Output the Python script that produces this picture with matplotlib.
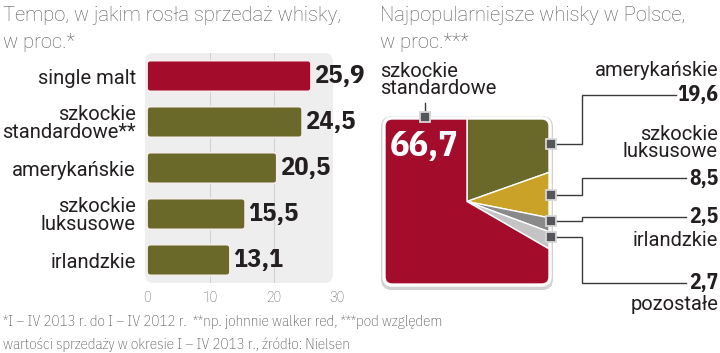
import matplotlib.pyplot as plt
from matplotlib.patches import FancyBboxPatch

# --- data -----------------------------------------------------------------
growth_labels = ['single malt', 'szkockie\nstandardowe**', 'amerykańskie',
                 'szkockie\nluksusowe', 'irlandzkie']
growth_values = [25.9, 24.5, 20.5, 15.5, 13.1]
growth_colors = ['#a30d2b', '#6b692a', '#6b692a', '#6b692a', '#6b692a']
growth_ticks = [0, 10, 20, 30]

share_labels = ['amerykańskie', 'szkockie\nluksusowe', 'irlandzkie', 'pozostałe',
                'szkockie\nstandardowe']
share_values = [19.6, 8.5, 2.5, 2.7, 66.7]
share_colors = ['#6b692a', '#c9a227', '#8a8a8a', '#c4c4c4', '#a30d2b']

title_left = ['Tempo, w jakim rosła sprzedaż whisky,', 'w proc.*']
title_right = ['Najpopularniejsze whisky w Polsce,', 'w proc.***']
footnote = ['*I – IV 2013 r. do I – IV 2012 r.  **np. johnnie walker red, ***pod względem',
            'wartości sprzedaży w okresie I – IV 2013 r., źródło: Nielsen']

LIGHT = dict(family=['Roboto', 'DejaVu Sans'], weight='light', color='#555555')
FOOT = dict(family=['IBM Plex Sans Condensed', 'DejaVu Sans'], weight='light', color='#555555')
LABEL = dict(family=['Roboto', 'DejaVu Sans'], color='#231f20')
NUM = dict(family=['IBM Plex Sans Condensed', 'DejaVu Sans'], weight='bold', color='#231f20')


def fmt(v):
    return f'{v:.1f}'.replace('.', ',')


W, H = 720, 353
fig = plt.figure(figsize=(7.2, 3.53), dpi=100)


def px_axes(x0, y0, x1, y1):
    return fig.add_axes([x0 / W, 1 - y1 / H, (x1 - x0) / W, (y1 - y0) / H])


# background layer in pixel coordinates (panel, pie shadow)
bg = px_axes(0, 0, W, H)
bg.set_xlim(0, W)
bg.set_ylim(H, 0)
bg.axis('off')
bg.add_patch(FancyBboxPatch((145, 53), 188, 230, boxstyle='round,pad=0,rounding_size=9',
                            fc='#eeeeee', ec='none'))
bg.add_patch(FancyBboxPatch((381, 116), 172, 174, boxstyle='round,pad=0,rounding_size=11',
                            fc='#d2d2d2', ec='none'))

# --- bar chart ---------------------------------------------------------------
ax = px_axes(147, 53, 337, 283)
ax.set_facecolor('none')
ypos = list(range(len(growth_values)))
bars = ax.barh(ypos, growth_values, height=0.67, color=growth_colors)
ax.set_xlim(0, 30)
ax.set_ylim(len(growth_values) - 0.5, -0.5)
aspect = (190 / 30) / (230 / 5)
for b in bars:
    b.set_visible(False)
    ax.add_patch(FancyBboxPatch((b.get_x(), b.get_y()), b.get_width(), b.get_height(),
                                boxstyle='round,pad=0,rounding_size=0.55',
                                mutation_aspect=aspect, fc=b.get_facecolor(),
                                ec='#f6eeee', lw=1.3))
for y, v in zip(ypos, growth_values):
    ax.annotate(fmt(v), (v, y), xytext=(2, 0), textcoords='offset points',
                ha='left', va='center', fontsize=19, **NUM)
ax.set_yticks(ypos)
ax.set_yticklabels(growth_labels, fontsize=14.5, linespacing=0.92, **LABEL)
ax.set_xticks(growth_ticks)
ax.set_xticklabels([str(t) for t in growth_ticks], fontsize=10, **LIGHT)
ax.tick_params(length=0, pad=6)
ax.tick_params(axis='y', pad=8)
for t in growth_ticks[1:-1]:
    ax.axvline(t, color='#d2d2d2', lw=0.8, zorder=0)
for s in ax.spines.values():
    s.set_visible(False)

# --- pie in a rounded square ------------------------------------------------
pax = px_axes(384, 118, 550, 285)
wedges, _ = pax.pie(share_values, colors=share_colors, startangle=90, counterclock=False,
                    radius=1.6, wedgeprops=dict(edgecolor='white', linewidth=1))
pax.set_aspect('auto')
pax.set_xlim(-1, 1)
pax.set_ylim(-1, 1)
clip = FancyBboxPatch((-1, -1), 2, 2, boxstyle='round,pad=0,rounding_size=0.1',
                      transform=pax.transData)
for w in wedges:
    w.set_clip_on(True)
    w.set_clip_path(clip)
pax.add_patch(FancyBboxPatch((-1, -1), 2, 2, boxstyle='round,pad=0,rounding_size=0.1',
                             fc='none', ec='white', lw=2.4, clip_on=False, zorder=5))
pax.text(-0.93, 0.66, fmt(share_values[-1]), ha='left', va='center', fontsize=26,
         family=['IBM Plex Sans Condensed', 'DejaVu Sans'], weight='bold', color='white')

# --- foreground: titles, leaders, labels -------------------------------------
fg = px_axes(0, 0, W, H)
fg.set_xlim(0, W)
fg.set_ylim(H, 0)
fg.axis('off')

for i, line in enumerate(title_left):
    fg.text(3, 21 + 27 * i, line, fontsize=14.5, va='baseline', **LIGHT)
for i, line in enumerate(title_right):
    fg.text(380, 21 + 27 * i, line, fontsize=14.5, va='baseline', **LIGHT)
for i, line in enumerate(footnote):
    fg.text(3, 326 + 23 * i, line, fontsize=10.8, va='baseline', **FOOT)

line_kw = dict(color='#3a3a3a', lw=1, solid_joinstyle='miter')
mark_kw = dict(marker='s', ms=7, mfc='#55565c', mec='#d6d6d6', mew=1.3, ls='none', zorder=6)

# leader routes: (marker y, label y)
routes = [(144, 95), (195, 178), (221, 217), (237, 283)]
text_y = [(70, 95), (143, 178), (240, 217), (305, 283)]
for (my, ly), (ty, ny), name, v in zip(routes, text_y, share_labels, share_values):
    fg.plot([551, 582, 582, 676 if v >= 10 else 686], [my, my, ly, ly], **line_kw)
    fg.plot([551], [my], **mark_kw)
    fg.text(718, ny, fmt(v), ha='right', va='center', fontsize=15.5, **NUM)
    fg.text(718, ty, name, ha='right', va='center', fontsize=14.5, linespacing=0.92, **LABEL)

fg.plot([425, 425], [103, 117], **line_kw)
fg.plot([425], [117], **mark_kw)
fg.text(380, 80, share_labels[-1], ha='left', va='center', fontsize=14.5, linespacing=0.92,
        **LABEL)

fig.savefig('out.png', dpi=100)
